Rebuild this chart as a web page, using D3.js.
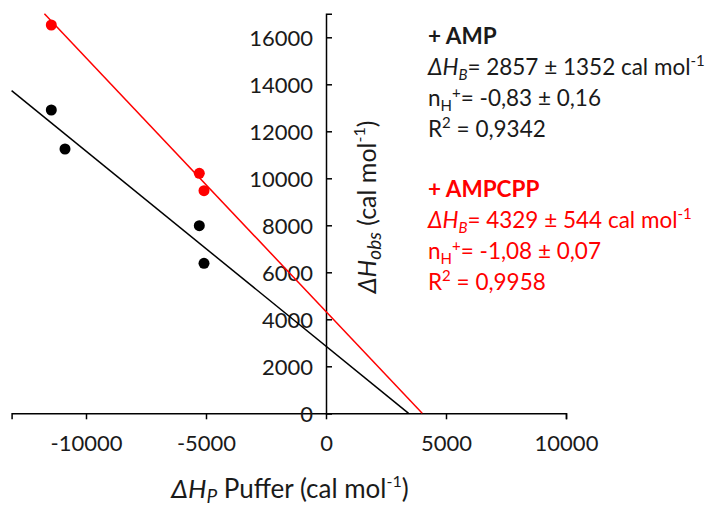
<!DOCTYPE html>
<html>
<head>
<meta charset="utf-8">
<script src="https://cdn.jsdelivr.net/npm/d3@7"></script>
<style>
  html, body { margin: 0; padding: 0; background: #fff; }
  svg { display: block; font-family: Lato, "Open Sans", sans-serif; }
</style>
</head>
<body>
<svg id="chart" width="709" height="513"></svg>
<script>
// Buffer ionisation enthalpy (x) vs observed binding enthalpy (y)
const ampX = [-11446, -10875, -5279, -5083];
const ampY = [12906, 11247, 7983, 6383];
const ampcppX = [-11446, -5279, -5083];
const ampcppY = [16523, 10213, 9472];

// Linear fits: intercept = ΔH_B, slope = -n_H+
const fitIntercepts = [2857, 4329];
const fitSlopes = [-0.83, -1.08];
const seriesNames = ["+ AMP", "+ AMPCPP"];
const seriesColors = ["#000000", "#ff0000"];

const xTicks = [-10000, -5000, 0, 5000, 10000];
const yTicks = [0, 2000, 4000, 6000, 8000, 10000, 12000, 14000, 16000];

const statDH = ["2857 ± 1352", "4329 ± 544"];
const statN = ["-0,83 ± 0,16", "-1,08 ± 0,07"];
const statR2 = ["0,9342", "0,9958"];

const svg = d3.select("#chart");

const xDomain = [-13100, 10000];
const yDomain = [0, 17000];
const x = d3.scaleLinear().domain(xDomain).range([11.6, 566]);
const y = d3.scaleLinear().domain(yDomain).range([413.3, 13.8]);

// Axes cross at the origin
const plain = d => String(d);
const xAxis = d3.axisBottom(x).tickValues(xTicks).tickSize(6).tickPadding(16).tickFormat(plain);
const yAxis = d3.axisRight(y).tickValues(yTicks).tickSize(6).tickFormat(plain);

const gx = svg.append("g").attr("transform", `translate(0,${y(0)})`).call(xAxis);
const gy = svg.append("g").attr("transform", `translate(${x(0)},0)`).call(yAxis);

[gx, gy].forEach(g => {
  g.select(".domain").attr("stroke", "#000").attr("stroke-width", 1.5);
  g.selectAll(".tick line").attr("stroke", "#000").attr("stroke-width", 1.5);
  g.selectAll(".tick text").attr("fill", "#1a1a1a").attr("font-size", 22).attr("font-family", "Lato, sans-serif");
});
// y labels sit to the left of the axis, ticks point right
gy.selectAll(".tick text").attr("x", -13).attr("text-anchor", "end").attr("dy", "0.36em");
gx.selectAll(".tick text").attr("dy", "0.71em");

// Fit lines, from the left edge (or top) down to where they meet y = 0
fitIntercepts.forEach((b, i) => {
  const m = fitSlopes[i];
  const xStart = Math.max(xDomain[0], (yDomain[1] - b) / m);
  const xEnd = -b / m;
  svg.append("line")
    .attr("x1", x(xStart)).attr("y1", y(m * xStart + b))
    .attr("x2", x(xEnd)).attr("y2", y(m * xEnd + b))
    .attr("stroke", seriesColors[i]).attr("stroke-width", 1.5);
});

// Data points
const series = [
  ampX.map((v, i) => [v, ampY[i]]),
  ampcppX.map((v, i) => [v, ampcppY[i]])
];
series.forEach((pts, i) => {
  svg.append("g").selectAll("circle").data(pts).join("circle")
    .attr("cx", d => x(d[0])).attr("cy", d => y(d[1]))
    .attr("r", 5.5).attr("fill", seriesColors[i]);
});

// Axis titles
const xt = svg.append("text").attr("x", 290).attr("y", 498).attr("text-anchor", "middle")
  .attr("font-size", 26).attr("fill", "#1a1a1a");
xt.append("tspan").attr("font-style", "italic").text("ΔH");
xt.append("tspan").attr("font-style", "italic").attr("font-size", 19).attr("dy", 5).text("P");
xt.append("tspan").attr("dy", -5).text(" Puffer (cal mol");
xt.append("tspan").attr("font-size", 16).attr("dy", -11).text("-1");
xt.append("tspan").attr("dy", 11).text(")");

const yt = svg.append("text").attr("transform", "translate(376,207) rotate(-90)").attr("text-anchor", "middle")
  .attr("font-size", 25).attr("fill", "#1a1a1a");
yt.append("tspan").attr("font-style", "italic").text("ΔH");
yt.append("tspan").attr("font-style", "italic").attr("font-size", 19).attr("dy", 5).text("obs");
yt.append("tspan").attr("dy", -5).text(" (cal mol");
yt.append("tspan").attr("font-size", 16).attr("dy", -11).text("-1");
yt.append("tspan").attr("dy", 11).text(")");

// Fit statistics
const blockTop = [44, 197];
const lineGap = 31;
seriesNames.forEach((name, i) => {
  const col = i === 0 ? "#1a1a1a" : seriesColors[i];
  const g = svg.append("g").attr("fill", col).attr("font-size", 22.5);
  const x0 = 428;
  let yb = blockTop[i];
  g.append("text").attr("x", x0).attr("y", yb).attr("font-weight", "bold").text(name);

  yb += lineGap;
  const t1 = g.append("text").attr("x", x0).attr("y", yb);
  t1.append("tspan").attr("font-style", "italic").text("ΔH");
  t1.append("tspan").attr("font-style", "italic").attr("font-size", 15).attr("dy", 5).text("B");
  t1.append("tspan").attr("dy", -5).text(`= ${statDH[i]} cal mol`);
  t1.append("tspan").attr("font-size", 15).attr("dy", -9).text("-1");

  yb += lineGap;
  const t2 = g.append("text").attr("x", x0).attr("y", yb);
  t2.append("tspan").text("n");
  t2.append("tspan").attr("font-size", 15).attr("dy", 5).text("H");
  t2.append("tspan").attr("font-size", 15).attr("dy", -13).text("+");
  t2.append("tspan").attr("dy", 8).text(`= ${statN[i]}`);

  yb += lineGap;
  const t3 = g.append("text").attr("x", x0).attr("y", yb);
  t3.append("tspan").text("R");
  t3.append("tspan").attr("font-size", 15).attr("dy", -9).text("2");
  t3.append("tspan").attr("dy", 9).text(` = ${statR2[i]}`);
});
</script>
</body>
</html>
